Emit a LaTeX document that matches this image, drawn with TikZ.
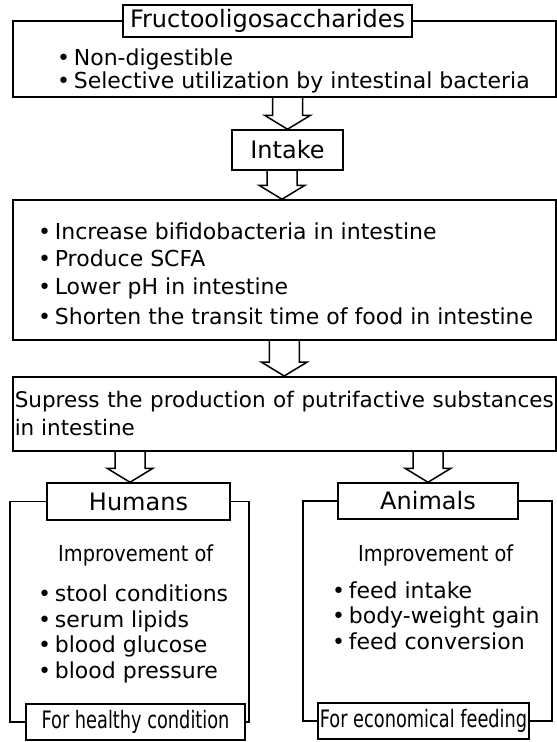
\documentclass[tikz,border=0pt]{standalone}
\usepackage{fontspec}
\setmainfont{DejaVu Sans}
\newfontfamily\narrowfont{DejaVu Sans}[FakeStretch=0.74]
\newfontfamily\midfont{DejaVu Sans}[FakeStretch=0.88]
\usetikzlibrary{calc,positioning}
% hollow block arrow from the bottom of one node to the top of the next
\newcommand{\fatarrow}[3][0]{%
  \draw[hollow] let \p1=(#2), \p2=(#3) in
    (\x2+#1pt-15pt,\y1) -- (\x2+#1pt-15pt,\y2+14pt) -- (\x2+#1pt-23pt,\y2+14pt)
    -- (\x2+#1pt,\y2) -- (\x2+#1pt+23pt,\y2+14pt) -- (\x2+#1pt+15pt,\y2+14pt)
    -- (\x2+#1pt+15pt,\y1);}

\begin{document}
\begin{tikzpicture}[
  x=1pt, y=-1pt,
  every node/.style={font=\fontsize{22}{28}\selectfont},
  frame/.style={draw,line width=1.5pt,inner sep=0pt},
  head/.style={draw,fill=white,line width=1.5pt,inner sep=0pt,font=\fontsize{24}{28}\selectfont},
  foot/.style={head,font=\narrowfont\fontsize{24}{28}\selectfont},
  item/.style={anchor=base west,inner sep=0pt},
  rim/.style={line width=1.5pt},
  hollow/.style={line width=1.5pt,line join=miter}
]
\useasboundingbox (0,0) rectangle (557,742);
% top block
\node[frame,minimum width=543pt,minimum height=76pt] (topbox) at (284.5,59) {};
\node[head,minimum width=289pt,minimum height=32pt] (fos) at (267.5,21) {Fructooligosaccharides};
\node[item] (fos1) at (57,65) {\textbullet\,Non-digestible};
\node[item] (fos2) at (57,88) {\textbullet\,Selective utilization by intestinal bacteria};
\node[head,minimum width=111pt,minimum height=40pt] (intake) at (287.5,150) {Intake};
% effects in intestine
\node[frame,minimum width=543pt,minimum height=140pt] (effects) at (284.5,270) {};
\foreach \yb/\txt [count=\i] in {239/Increase bifidobacteria in intestine,
    266/Produce SCFA, 294/Lower pH in intestine,
    324/Shorten the transit time of food in intestine}
  \node[item] (eff\i) at (38,\yb) {\textbullet\,\txt};
\node[frame,text width=539pt,inner xsep=2pt,align=justify,minimum height=74pt,
  anchor=north west,font=\fontsize{21.5}{28}\selectfont] (supress) at (12,376)
  {Supress the production of putrifactive substances\linebreak in intestine};
% humans
\node[head,minimum width=183pt,minimum height=37pt] (humans) at (138.5,501.5) {Humans};
\node[foot,minimum width=219pt,minimum height=36pt] (healthy) at (135.5,722) {For healthy condition};
\coordinate (hl) at (10,600);
\coordinate (hr) at (249,600);
\draw[rim] (humans.west) -| (hl) |- (healthy.west);
\draw[rim] (humans.east) -| (hr) |- (healthy.east);
\node[item,font=\midfont\fontsize{22}{28}\selectfont] (himp) at (58,561) {Improvement of};
\foreach \txt [count=\i] in {stool conditions, serum lipids, blood glucose, blood pressure}
  \node[item] (hum\i) at (38,576+25.5*\i) {\textbullet\,\txt};
% animals
\node[head,minimum width=180pt,minimum height=36pt] (animals) at (428,501) {Animals};
\node[foot,minimum width=211pt,minimum height=36pt] (feeding) at (423.5,721) {For economical feeding};
\coordinate (al) at (303,600);
\coordinate (ar) at (552,600);
\draw[rim] (animals.west) -| (al) |- (feeding.west);
\draw[rim] (animals.east) -| (ar) |- (feeding.east);
\node[item,font=\midfont\fontsize{22}{28}\selectfont] (aimp) at (358,561) {Improvement of};
\foreach \txt [count=\i] in {feed intake, body-weight gain, feed conversion}
  \node[item] (ani\i) at (332,572.5+25.5*\i) {\textbullet\,\txt};
% block arrows
\fatarrow{topbox.south}{intake.north}
\fatarrow[-2.5]{intake.south}{effects.north}
\fatarrow{effects.south}{supress.north}
\fatarrow[-8.5]{supress.south}{humans.north}
\fatarrow{supress.south}{animals.north}
\end{tikzpicture}
\end{document}
